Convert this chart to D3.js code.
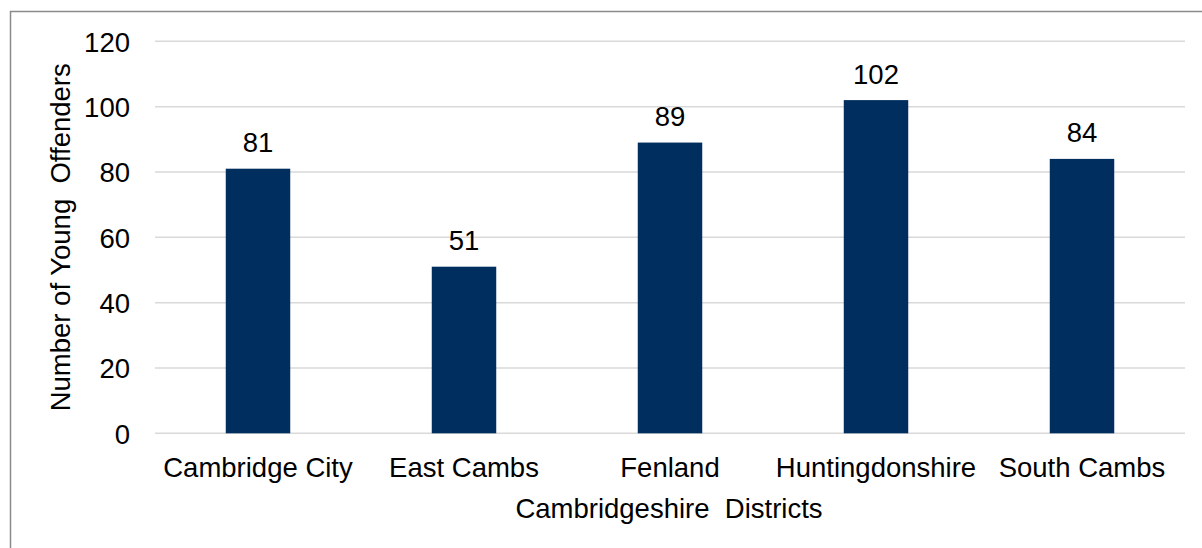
<!DOCTYPE html>
<html>
<head>
<meta charset="utf-8">
<script src="https://cdn.jsdelivr.net/npm/d3@7"></script>
<style>
  html, body { margin: 0; padding: 0; background: #fff; }
  svg { display: block; font-family: "Liberation Sans", Arial, sans-serif; }
</style>
</head>
<body>
<svg id="chart" width="1202" height="548"></svg>
<script>
// Young offenders by Cambridgeshire district
const districts = ["Cambridge City", "East Cambs", "Fenland", "Huntingdonshire", "South Cambs"];
const offenders = [81, 51, 89, 102, 84];
const yTicks = [0, 20, 40, 60, 80, 100, 120];
const xTitle = "Cambridgeshire  Districts";
const yTitle = "Number of Young  Offenders";

const W = 1202, H = 548;
const FS = 27.5;
const plot = { left: 155, right: 1185, top: 41.3, bottom: 433.3 };

const svg = d3.select("#chart");

// outer chart border
svg.append("rect")
  .attr("x", 10.5).attr("y", 11.5)
  .attr("width", W + 10).attr("height", H + 10)
  .attr("fill", "none").attr("stroke", "#8a8a8a").attr("stroke-width", 1.5);

const x = d3.scaleBand().domain(districts).range([plot.left, plot.right]).paddingInner(0.687).paddingOuter(0.3435);
const y = d3.scaleLinear().domain([0, 120]).range([plot.bottom, plot.top]);

// horizontal gridlines
svg.append("g")
  .selectAll("line")
  .data(yTicks)
  .join("line")
  .attr("x1", plot.left).attr("x2", plot.right)
  .attr("y1", d => y(d)).attr("y2", d => y(d))
  .attr("stroke", "#d9d9d9").attr("stroke-width", 1.5);

// y tick labels
const yAxis = d3.axisLeft(y).tickValues(yTicks).tickSize(0).tickPadding(0);
const gy = svg.append("g").attr("transform", `translate(130,0)`).call(yAxis);
gy.select(".domain").remove();
gy.selectAll("text").attr("font-size", FS).attr("fill", "#000")
  .attr("font-family", "Liberation Sans, Arial, sans-serif").attr("dy", "0.36em");

// x category labels
const xAxis = d3.axisBottom(x).tickSize(0).tickPadding(0);
const gx = svg.append("g").attr("transform", `translate(0,476.5)`).call(xAxis);
gx.select(".domain").remove();
gx.selectAll("text").attr("font-size", FS).attr("fill", "#000")
  .attr("font-family", "Liberation Sans, Arial, sans-serif").attr("dy", 0).attr("y", 0);

// bars
svg.append("g")
  .selectAll("rect")
  .data(districts)
  .join("rect")
  .attr("x", d => x(d))
  .attr("y", (d, i) => y(offenders[i]))
  .attr("width", x.bandwidth())
  .attr("height", (d, i) => y(0) - y(offenders[i]))
  .attr("fill", "#002f5f");

// value labels above bars
svg.append("g")
  .selectAll("text")
  .data(districts)
  .join("text")
  .attr("x", d => x(d) + x.bandwidth() / 2)
  .attr("y", (d, i) => y(offenders[i]) - 16.5)
  .attr("text-anchor", "middle")
  .attr("font-size", FS)
  .attr("fill", "#000")
  .text((d, i) => offenders[i]);

// axis titles
svg.append("text")
  .attr("x", 669)
  .attr("y", 518)
  .attr("text-anchor", "middle")
  .attr("font-size", FS)
  .attr("fill", "#000")
  .style("white-space", "pre")
  .text(xTitle);

svg.append("text")
  .attr("transform", `translate(70,${(plot.top + plot.bottom) / 2}) rotate(-90)`)
  .attr("text-anchor", "middle")
  .attr("font-size", FS)
  .attr("fill", "#000")
  .style("white-space", "pre")
  .text(yTitle);
</script>
</body>
</html>
